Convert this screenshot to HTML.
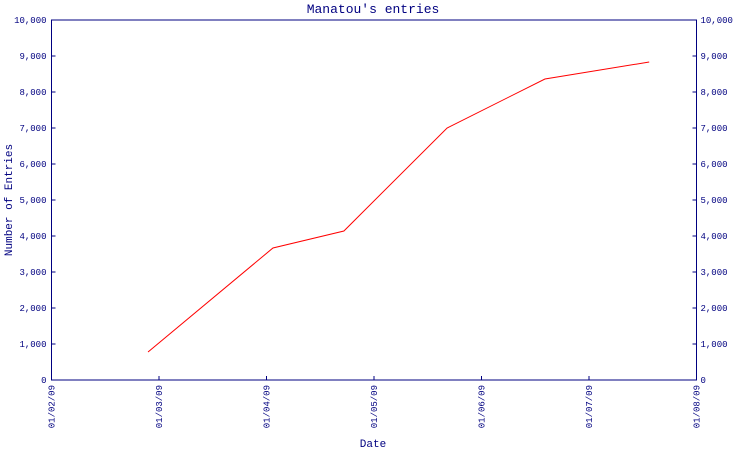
<!DOCTYPE html>
<html><head><meta charset="utf-8"><style>
body{margin:0;background:#fff;}
svg{display:block;font-family:"Liberation Mono",monospace;}
</style></head><body>
<svg id="chart" width="750" height="450">
<text x="373" y="13" text-anchor="middle" font-size="13" fill="#000080">Manatou's entries</text>
<text x="12" y="200" text-anchor="middle" font-size="11" fill="#000080" transform="rotate(-90 12 200)">Number of Entries</text>
<text x="373" y="447" text-anchor="middle" font-size="11" fill="#000080">Date</text>
<g id="axes"></g>
<g id="series"></g>
</svg>
<script>
const xLabels=["01/02/09","01/03/09","01/04/09","01/05/09","01/06/09","01/07/09","01/08/09"];
const yTicks=[0,1000,2000,3000,4000,5000,6000,7000,8000,9000,10000];
const pointX=[0.898,2.06,2.72,3.68,4.59,5.56];
const pointY=[778,3667,4139,7000,8361,8833];
const L=51.5,R=696.5,T=20,B=380;
const xs=i=>L+i*(R-L)/(xLabels.length-1);
const ys=v=>B-v/10000*(B-T);
const NS="http://www.w3.org/2000/svg";
const ax=document.getElementById('axes'),se=document.getElementById('series');
function mk(tag,attrs,parent){const e=document.createElementNS(NS,tag);for(const k in attrs)e.setAttribute(k,attrs[k]);parent.appendChild(e);return e;}
const frame=mk('rect',{x:L,y:T,width:R-L,height:B-T,fill:'none',stroke:'#000080','stroke-width':1},ax);


const fmt=v=>v.toLocaleString('en-US').replace(/,/g,',');
yTicks.forEach(v=>{
  const y=ys(v);
  mk('line',{x1:L,x2:L+4,y1:y,y2:y,stroke:'#000080'},ax);
  mk('line',{x1:R-4,x2:R,y1:y,y2:y,stroke:'#000080'},ax);
  const t=mk('text',{x:L-5,y:y+3,'text-anchor':'end','font-size':9,fill:'#000080'},ax);
  t.textContent=fmt(v);
  
  
  const t2=mk('text',{x:R+4,y:y+3,'text-anchor':'start','font-size':9,fill:'#000080'},ax);
  t2.textContent=fmt(v);
  
  
});
xLabels.forEach((lab,i)=>{
  const x=xs(i);
  mk('line',{x1:x,x2:x,y1:B,y2:B-4,stroke:'#000080'},ax);
  const t=mk('text',{x:x+3,y:B+5,'text-anchor':'end','font-size':9,fill:'#000080',transform:`rotate(-90 ${x+3} ${B+5})`},ax);
  t.textContent=lab;
  
  
});
const pts=pointX.map((px,i)=>xs(px)+','+ys(pointY[i])).join(' ');
const pl=mk('polyline',{points:pts,fill:'none',stroke:'#ff0000','stroke-width':1},se);


</script>
</body></html>
